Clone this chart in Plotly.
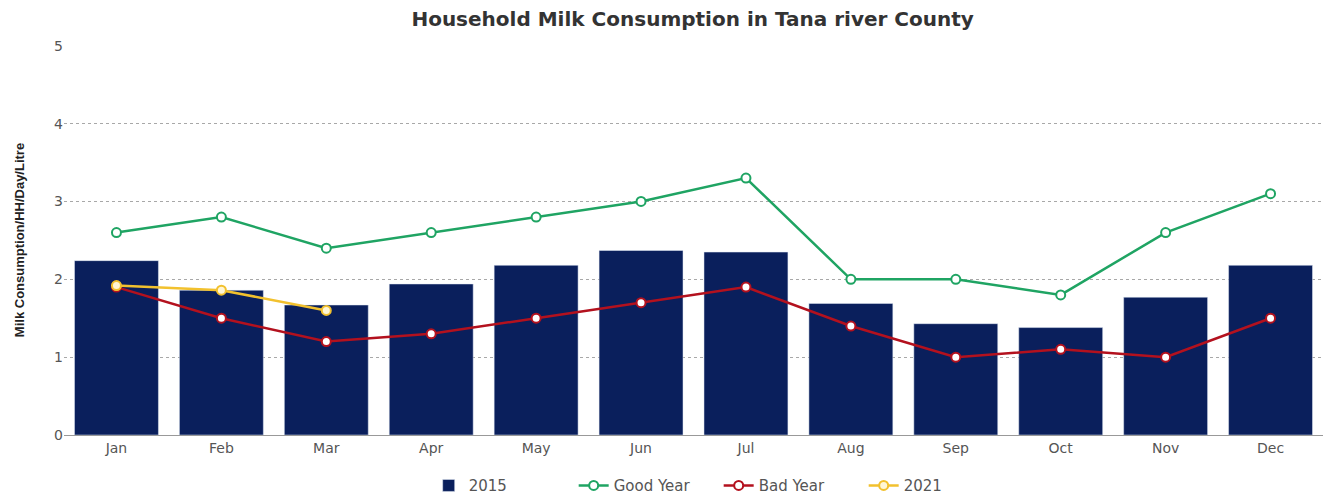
import plotly.graph_objects as go

months = ["Jan", "Feb", "Mar", "Apr", "May", "Jun", "Jul", "Aug", "Sep", "Oct", "Nov", "Dec"]
vals_2015 = [2.24, 1.86, 1.67, 1.94, 2.18, 2.37, 2.35, 1.69, 1.43, 1.38, 1.77, 2.18]
good_year = [2.6, 2.8, 2.4, 2.6, 2.8, 3.0, 3.3, 2.0, 2.0, 1.8, 2.6, 3.1]
bad_year = [1.9, 1.5, 1.2, 1.3, 1.5, 1.7, 1.9, 1.4, 1.0, 1.1, 1.0, 1.5]
months_2021 = ["Jan", "Feb", "Mar"]
vals_2021 = [1.92, 1.86, 1.6]

NAVY = "#0a1f5c"
GREEN = "#1fa463"
RED = "#b3111e"
YELLOW = "#f2c12e"
FONT = "DejaVu Sans, Liberation Sans, Arial, sans-serif"

fig = go.Figure()
fig.add_trace(go.Bar(x=months, y=vals_2015, name="2015", marker=dict(color=NAVY)))
fig.add_trace(go.Scatter(x=months, y=good_year, name="Good Year", mode="lines+markers",
                         line=dict(color=GREEN, width=2.5),
                         marker=dict(size=9, color="white", line=dict(color=GREEN, width=2))))
fig.add_trace(go.Scatter(x=months, y=bad_year, name="Bad Year", mode="lines+markers",
                         line=dict(color=RED, width=2.5),
                         marker=dict(size=9, color="white", line=dict(color=RED, width=2))))
fig.add_trace(go.Scatter(x=months_2021, y=vals_2021, name="2021", mode="lines+markers",
                         line=dict(color=YELLOW, width=2.5),
                         marker=dict(size=9, color="#fff6d5", line=dict(color=YELLOW, width=2))))

fig.update_layout(
    width=1332, height=497,
    paper_bgcolor="white", plot_bgcolor="white",
    margin=dict(l=64, r=9, t=45, b=62, autoexpand=False),
    bargap=0.2,
    title=dict(text="<b>Household Milk Consumption in Tana river County</b>",
               x=0.52, xanchor="center", y=0.962, yanchor="middle",
               font=dict(family=FONT, size=20, color="#333333")),
    font=dict(family=FONT, color="#555555", size=14),
    legend=dict(orientation="h", x=0.52, xanchor="center", y=-0.13, yanchor="middle",
                font=dict(size=15, color="#555555"), itemwidth=30,
                entrywidth=100, entrywidthmode="pixels"),
    showlegend=True,
)
fig.update_xaxes(range=[-0.5, 11.5], showgrid=False, showline=True, linecolor="#999999",
                 linewidth=1, ticks="", tickfont=dict(size=14, color="#555555"), automargin=False)
fig.update_yaxes(range=[0, 5.01], tickvals=[0, 1, 2, 3, 4, 5], showgrid=True, gridcolor="#a8a8a8",
                 griddash="dot", gridwidth=1, zeroline=False, showline=False, ticks="",
                 tickfont=dict(size=14, color="#555555"), automargin=False,
                 title=dict(text="<b>Milk Consumption/HH/Day/Litre</b>", standoff=26,
                            font=dict(family="Liberation Sans Narrow, Arial Narrow, sans-serif",
                                      size=13, color="#222222")))

fig.write_html("out.html", config={"displayModeBar": False},
               post_script="document.body.style.margin='0';document.body.style.overflow='hidden';")
